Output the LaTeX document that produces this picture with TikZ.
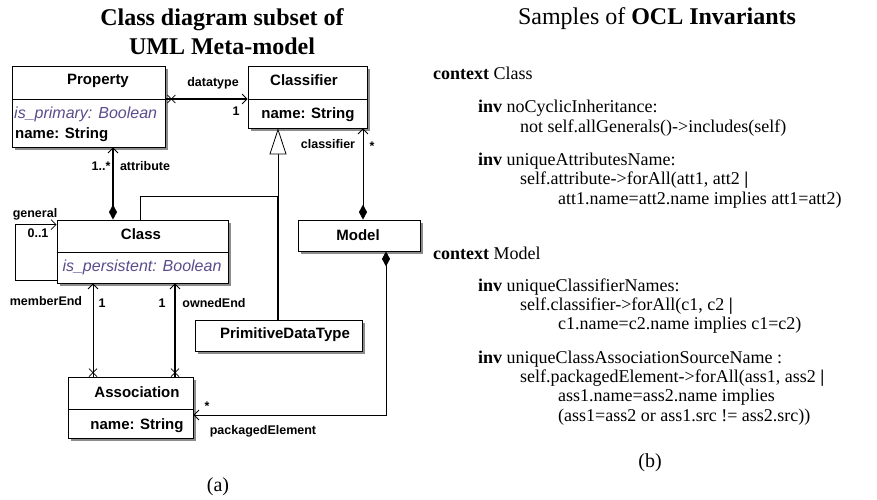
\documentclass[tikz,border=0pt]{standalone}
\usepackage{fontspec}
\setmainfont{Liberation Serif}
\setsansfont{Liberation Sans}
\usetikzlibrary{arrows.meta,calc,shadows}
\definecolor{attrpurple}{RGB}{92,76,140}
\tikzset{
  openarr/.tip={Straight Barb[length=5pt,width=10pt,line width=0.8pt]},
  dia/.tip={Diamond[length=15pt,width=8pt]},
  tri/.tip={Triangle[open,length=26pt,width=17pt,fill=white,line width=0.8pt]},
  box/.style={draw, line width=0.8pt, fill=white, inner sep=0pt,
    drop shadow={shadow xshift=2.5pt, shadow yshift=-2.5pt, fill=black!45, opacity=1}},
  hd/.style={font=\sffamily\bfseries\fontsize{15}{18}\selectfont, inner sep=0pt},
  attr/.style={font=\sffamily\itshape\fontsize{16}{19}\selectfont, text=attrpurple, inner sep=0pt},
  lbl/.style={font=\sffamily\bfseries\fontsize{12.5}{15}\selectfont, inner sep=0pt},
  ocl/.style={font=\fontsize{18}{21}\selectfont, anchor=west, inner sep=0pt},
  ttl/.style={font=\fontsize{24}{28}\selectfont, inner sep=0pt},
  thinl/.style={line width=0.9pt},
  thickl/.style={line width=2pt},
  xcross/.pic={\draw[line width=0.8pt] (-4,-4) -- (4,4) (-4,4) -- (4,-4);}
}
\begin{document}
\begin{tikzpicture}[x=1pt,y=-1pt]
\useasboundingbox (0,0) rectangle (877,499);

% titles
\node[ttl, font=\bfseries\fontsize{24}{28}\selectfont] (t1) at (222,20) {Class diagram subset of};
\node[ttl, font=\bfseries\fontsize{24}{28}\selectfont] (t2) at (222,46) {UML Meta-model};
\node[ttl] (t3) at (657,19) {Samples of \textbf{OCL Invariants}};

% boxes
\node[box, minimum width=153pt, minimum height=81pt] (prop) at (88.5,106.5) {};
\node[box, minimum width=119pt, minimum height=62pt] (clsf) at (307.5,97) {};
\node[box, minimum width=171pt, minimum height=63pt] (cls) at (142.5,251.5) {};
\node[box, minimum width=122pt, minimum height=31pt] (mdl) at (359,235.5) {};
\node[box, minimum width=167pt, minimum height=31pt] (pdt) at (278.5,335.5) {};
\node[box, minimum width=125pt, minimum height=61pt] (assoc) at (130.5,407.5) {};

% separators
\draw[line width=0.8pt] (prop.west |- 0,99) -- (prop.east |- 0,99);
\draw[line width=0.8pt] (clsf.west |- 0,99) -- (clsf.east |- 0,99);
\draw[line width=0.6pt] (cls.west |- 0,252) -- (cls.east |- 0,252);
\draw[line width=0.6pt] (assoc.west |- 0,409) -- (assoc.east |- 0,409);

% box texts
\node[hd] (propt) at (98,81) {Property};
\node[attr, anchor=west] (propa) at (14,114) {is\_primary: Boolean};
\node[hd, anchor=west] (propb) at (15,135) {name: String};
\node[hd] (clsft) at (304,80) {Classifier};
\node[hd] (clsfa) at (308,115) {name: String};
\node[hd] (clst) at (141,234) {Class};
\node[attr] (clsa) at (142,267) {is\_persistent: Boolean};
\node[hd] (mdlt) at (358,235) {Model};
\node[hd] (pdtt) at (285,335) {PrimitiveDataType};
\node[hd] (assoct) at (137,392) {Association};
\node[hd] (assoca) at (137,426) {name: String};

% helper coordinates
\coordinate (ax) at (113,0);
\coordinate (mx) at (93,0);
\coordinate (ox) at (175,0);
\coordinate (dy) at (0,99);
\coordinate (cx) at (363,0);
\coordinate (gx) at (278,0);
\coordinate (g2x) at (140,0);
\coordinate (gj) at (278,196);
\coordinate (px) at (386,0);
\coordinate (py) at (0,415);

% attribute composition
\draw[thickl, {dia}-{openarr}] (cls.north -| ax) -- (prop.south -| ax);
% general self association
\draw[thinl, -{openarr}] ([yshift=3pt]cls.south west) -- ++(-41,0) |- ([yshift=-5pt]cls.north west);
% memberEnd
\coordinate (me) at (assoc.north -| mx);
\draw[thinl, -{openarr}] (me) -- (cls.south -| mx);
\pic at ([yshift=4pt]me) {xcross};
% ownedEnd
\coordinate (oe) at (assoc.north -| ox);
\draw[thickl, -{openarr}] (oe) -- (cls.south -| ox);
\pic at ([yshift=4pt]oe) {xcross};
% datatype
\coordinate (dt) at (prop.east |- dy);
\draw[line width=1.2pt, -{openarr}] (dt) -- (clsf.west |- dy);
\pic at ([xshift=6pt]dt) {xcross};
% classifier composition
\draw[thinl, {dia}-{openarr}] (mdl.north -| cx) -- (clsf.south -| cx);
% generalization
\draw[thinl, -{tri}] (gj) -- (clsf.south -| gx);
\draw[thickl] (pdt.north -| gx) -- (gj);
\draw[thinl] (cls.north -| g2x) |- (gj);
% packagedElement
\draw[thinl, {dia}-{openarr}] (mdl.south -| px) |- (assoc.east |- py);

% labels
\node[lbl] (l1) at (213,83) {datatype};
\node[lbl] (l2) at (236,111) {1};
\node[lbl] (l3) at (101,166) {1..*};
\node[lbl] (l4) at (145,166) {attribute};
\node[lbl] (l5) at (35,214) {general};
\node[lbl] (l6) at (38,233) {0..1};
\node[lbl] (l7) at (46,301) {memberEnd};
\node[lbl] (l8) at (102,303) {1};
\node[lbl] (l9) at (162,303) {1};
\node[lbl] (l10) at (214,303) {ownedEnd};
\node[lbl] (l11) at (328,144) {classifier};
\node[lbl] (l12) at (372,146) {*};
\node[lbl] (l13) at (207,406) {*};
\node[lbl] (l14) at (263,431) {packagedElement};

\node[ttl, font=\fontsize{20}{24}\selectfont] (ca) at (218,487) {(a)};

% OCL text
\node[ocl] (o1) at (433,73) {\textbf{context} Class};
\node[ocl] (o2) at (478,108) {\textbf{inv} noCyclicInheritance:};
\node[ocl] (o3) at (520,128) {not self.allGenerals()->includes(self)};
\node[ocl] (o4) at (478,161) {\textbf{inv} uniqueAttributesName:};
\node[ocl] (o5) at (520,180) {self.attribute->forAll(att1, att2 \textbf{|}};
\node[ocl] (o6) at (558,200) {att1.name=att2.name implies att1=att2)};
\node[ocl] (o7) at (433,253) {\textbf{context} Model};
\node[ocl] (o8) at (478,287) {\textbf{inv} uniqueClassifierNames:};
\node[ocl] (o9) at (520,306) {self.classifier->forAll(c1, c2 \textbf{|}};
\node[ocl] (o10) at (558,325) {c1.name=c2.name implies c1=c2)};
\node[ocl] (o11) at (478,359) {\textbf{inv} uniqueClassAssociationSourceName :};
\node[ocl] (o12) at (520,378) {self.packagedElement->forAll(ass1, ass2 \textbf{|}};
\node[ocl] (o13) at (558,397) {ass1.name=ass2.name implies};
\node[ocl] (o14) at (558,417) {(ass1=ass2 or ass1.src != ass2.src))};
\node[ttl, font=\fontsize{20}{24}\selectfont] (cb) at (650,463) {(b)};
\end{tikzpicture}
\end{document}
